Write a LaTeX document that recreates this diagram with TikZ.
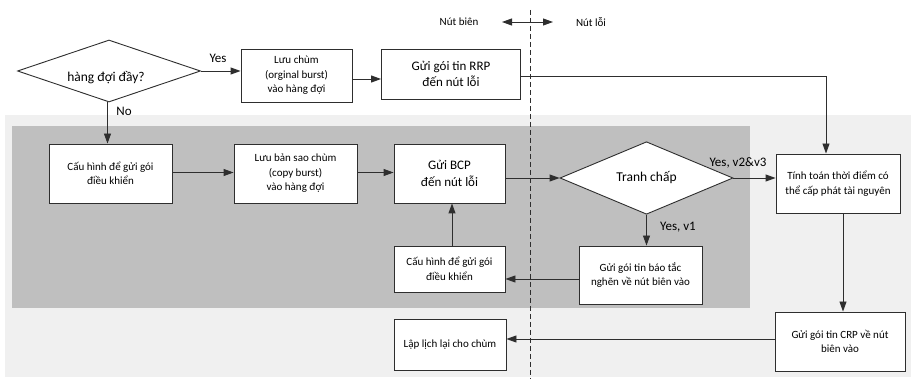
\documentclass[tikz,border=0pt]{standalone}
\usepackage{fontspec}
\setmainfont{Carlito}
\usetikzlibrary{shapes.geometric,arrows.meta,calc}
\definecolor{lightbg}{HTML}{F0F0F0}
\definecolor{darkbg}{HTML}{BFBFBF}
\definecolor{linec}{HTML}{2E2E2E}
\tikzset{
  box/.style={draw=linec, line width=0.9pt, fill=white, align=center, inner sep=2pt, font=\fontsize{11}{14.5}\selectfont},
  bigbox/.style={box, font=\fontsize{13}{16.5}\selectfont},
  dia/.style={diamond, draw=linec, line width=0.9pt, fill=white, align=center, inner sep=0pt, font=\fontsize{13.5}{16}\selectfont},
  arr/.style={draw=linec, line width=0.9pt, -{Triangle[length=10pt,width=7pt]}},
  lbl/.style={font=\fontsize{13}{15}\selectfont, inner sep=0pt},
  small/.style={font=\fontsize{11}{13}\selectfont, inner sep=0pt}
}
\begin{document}
\begin{tikzpicture}[x=1pt,y=-1pt]
\useasboundingbox (0,0) rectangle (911,379);
% backgrounds
\fill[lightbg] (5,115) rectangle (911,377);
\fill[darkbg] (12,126) rectangle (750,308);
% dashed boundary
\draw[linec, line width=0.9pt, dash pattern=on 5pt off 3pt] (530,10) -- (530,379);
\node[small] (nb) at (459,22) {Nút biên};
\node[small] (nl) at (591,22) {Nút lỗi};
\coordinate (la) at (502,22);
\coordinate (ra) at (553,22);
\draw[draw=linec, line width=0.9pt, {Triangle[length=10pt,width=7pt]}-{Triangle[length=10pt,width=7pt]}] (la) -- (ra);
% nodes
\node[dia, minimum width=183pt, minimum height=62pt] (d1) at (109,71) {};
\node[dia, draw=none, fill=none] (d1t) at (106,78) {hàng đợi đầy?};
\node[box, minimum width=111pt, minimum height=53pt] (b1) at (296.5,75.5) {Lưu chùm\\(orginal burst)\\vào hàng đợi};
\node[bigbox, minimum width=139pt, minimum height=50pt] (b2) at (451,74) {Gửi gói tin RRP\\đến nút lỗi};
\node[box, minimum width=123pt, minimum height=59pt] (c1) at (110.5,173.5) {Cấu hình để gửi gói\\điều khiển};
\node[box, minimum width=123pt, minimum height=59pt] (c2) at (295.5,173.5) {Lưu bản sao chùm\\(copy burst)\\vào hàng đợi};
\node[bigbox, minimum width=111pt, minimum height=59pt] (c3) at (449.5,173.5) {Gửi BCP\\đến nút lỗi};
\node[dia, minimum width=173pt, minimum height=62pt] (d2) at (646.5,178) {Tranh chấp};
\node[box, minimum width=124pt, minimum height=59pt] (t1) at (838,183.5) {Tính toán thời điểm có\\thể cấp phát tài nguyên};
\node[box, minimum width=123pt, minimum height=58pt] (g1) at (640.5,275) {Gửi gói tin báo tắc\\nghẽn về nút biên vào};
\node[box, minimum width=111pt, minimum height=46pt] (c4) at (449.5,269) {Cấu hình để gửi gói\\điều khiển};
\node[box, minimum width=130pt, minimum height=59pt] (crp) at (840,341.5) {Gửi gói tin CRP về nút\\biên vào};
\node[box, minimum width=112pt, minimum height=51pt] (ll) at (450,344.5) {Lập lịch lại cho chùm};
% labels
\node[lbl] (yes1) at (218,58) {Yes};
\node[lbl] (no1) at (124,111) {No};
\node[lbl] (yes23) at (738,163) {Yes, v2\&v3};
\node[lbl] (yes1b) at (678,227) {Yes, v1};
% connectors
\draw[arr] (d1.east) -- (d1.east -| b1.west);
\draw[arr] ([yshift=-3.5pt]b1.east) -- ([yshift=-3.5pt]b1.east -| b2.west);
\draw[arr] ([yshift=-2pt]b2.east) -| ([xshift=-12pt]t1.north);
\draw[arr] ([xshift=-1.5pt]d1.south) -- ([xshift=-1.5pt]d1.south |- c1.north);
\draw[arr] ([yshift=1pt]c1.east) -- ([yshift=1pt]c1.east -| c2.west);
\draw[arr] ([yshift=1pt]c2.east) -- ([yshift=1pt]c2.east -| c3.west);
\draw[arr] (c3.east |- d2.west) -- (d2.west);
\draw[arr] (d2.east) -- (d2.east -| t1.west);
\draw[arr] (d2.south) -- (d2.south |- g1.north);
\draw[arr] ([yshift=-4pt]g1.west) -- ([yshift=-4pt]g1.west -| c4.east);
\draw[arr] ([xshift=2.5pt]c4.north) -- ([xshift=2.5pt]c4.north |- c3.south);
\draw[arr] ([xshift=5pt]t1.south) -- ([xshift=5pt]t1.south |- crp.north);
\draw[arr] ([yshift=2.5pt]crp.west) -- ([yshift=2.5pt]crp.west -| ll.east);
\end{tikzpicture}
\end{document}
